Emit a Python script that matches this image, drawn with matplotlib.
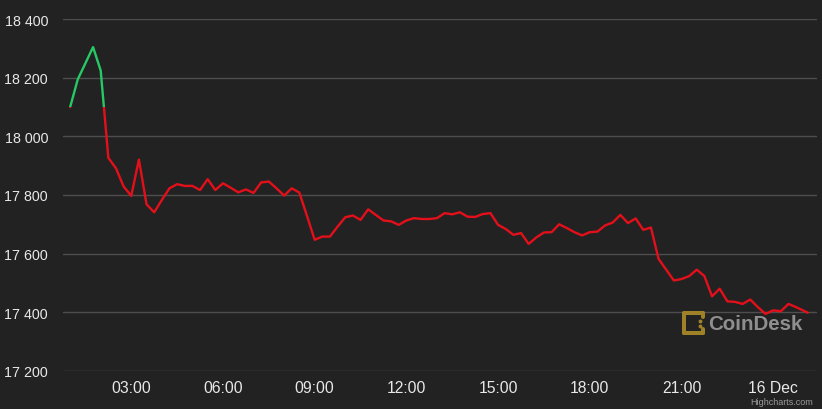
import matplotlib
matplotlib.use('Agg')
import matplotlib.pyplot as plt
import matplotlib.dates as mdates
from matplotlib.patches import Rectangle
import pandas as pd

# ---- data ----
prices = [
    18100, 18195, 18250, 18305, 18225, 17927, 17891, 17829, 17797, 17921,
    17768, 17741, 17783, 17823, 17837, 17831, 17831, 17817, 17854, 17817,
    17840, 17825, 17809, 17819, 17807, 17843, 17846, 17823, 17798, 17823,
    17808, 17728, 17647, 17658, 17658, 17692, 17724, 17730, 17715, 17751,
    17732, 17713, 17710, 17698, 17713, 17721, 17718, 17718, 17721, 17738,
    17734, 17741, 17726, 17725, 17735, 17738, 17698, 17684, 17664, 17670,
    17633, 17655, 17672, 17673, 17700, 17687, 17673, 17662, 17673, 17675,
    17696, 17706, 17732, 17704, 17720, 17681, 17689, 17582, 17545, 17508,
    17513, 17523, 17545, 17523, 17454, 17480, 17437, 17435, 17428, 17443,
    17417, 17394, 17406, 17403, 17428, 17417, 17398,
]
times = list(pd.date_range('2022-12-15 01:00', periods=len(prices) - 1, freq='15min')) \
    + [pd.Timestamp('2022-12-16 01:08')]

y_ticks = [17200, 17400, 17600, 17800, 18000, 18200, 18400]
y_labels = ['17 200', '17 400', '17 600', '17 800', '18 000', '18 200', '18 400']
x_ticks = ['2022-12-15 03:00', '2022-12-15 06:00', '2022-12-15 09:00', '2022-12-15 12:00',
           '2022-12-15 15:00', '2022-12-15 18:00', '2022-12-15 21:00', '2022-12-16 00:00']
x_labels = ['03:00', '06:00', '09:00', '12:00', '15:00', '18:00', '21:00', '16 Dec']
x_range = ['2022-12-15 00:46', '2022-12-16 01:26']

# ---- style ----
BG = '#222222'
GREEN = '#27c865'
RED = '#e3101b'
GRID = '#4e4e4e'
TXT = '#e8e8e8'
plt.rcParams['font.family'] = ['Liberation Sans', 'DejaVu Sans']

W, H = 822, 410
fig = plt.figure(figsize=(W / 100, H / 100), dpi=100, facecolor=BG)
left, right, top, bottom = 63, 817, 20.3, 371.7
ax = fig.add_axes([left / W, (H - bottom) / H, (right - left) / W, (bottom - top) / H])
ax.set_facecolor(BG)

x = mdates.date2num(times)
xl = mdates.date2num(pd.to_datetime(x_range))
ax.set_xlim(xl[0], xl[1])
ax.set_ylim(y_ticks[0], y_ticks[-1])

thr = prices[0]
for color, y0, y1 in [(GREEN, thr, 30000), (RED, 0, thr)]:
    ln, = ax.plot(x, prices, color=color, lw=1.7, solid_joinstyle='round',
                  solid_capstyle='round', zorder=3)
    clip = Rectangle((xl[0] - 5, y0), (xl[1] - xl[0]) + 10, y1 - y0, transform=ax.transData)
    ln.set_clip_path(clip)

for s in ax.spines.values():
    s.set_visible(False)
ax.set_yticks(y_ticks, y_labels)
ax.set_xticks(mdates.date2num(pd.to_datetime(x_ticks)), x_labels)
ax.grid(axis='y', color=GRID, lw=1.0, zorder=0)
ax.grid(axis='x', visible=False)
ax.tick_params(axis='both', length=0, colors=TXT)
ax.tick_params(axis='y', labelsize=10.3, pad=10.8)
ax.tick_params(axis='x', labelsize=11.3, pad=7)
ax.set_axisbelow(True)

# credit
fig.text(813 / W, 1 - 403 / H, 'Highcharts.com', ha='right', va='center',
         fontsize=6.5, color='#9a9a9a')

# CoinDesk watermark
lax = fig.add_axes([682 / W, 1 - 337 / H, 24 / W, 26 / H])
lax.set_xlim(0, 24)
lax.set_ylim(26, 0)
lax.axis('off')
GOLD = '#9f8228'
kw = dict(color=GOLD, lw=2.9, solid_capstyle='round')
lax.plot([2, 20.5], [2.5, 2.5], **kw)
lax.plot([2, 2], [2.5, 23], **kw)
lax.plot([2, 20.5], [23, 23], **kw)
lax.plot([20.5, 20.5], [2.5, 6.5], **kw)
lax.plot([20.5, 20.5], [23, 19], **kw)
lax.plot([18, 18], [10.5, 15.5], 'o', color=GOLD, ms=1.8)
fig.text(708 / W, 1 - 324 / H, 'CoinDesk', ha='left', va='center',
         fontsize=14.8, fontweight='bold', color='#8f8f8f')

fig.savefig('out.png', dpi=100, facecolor=BG)
